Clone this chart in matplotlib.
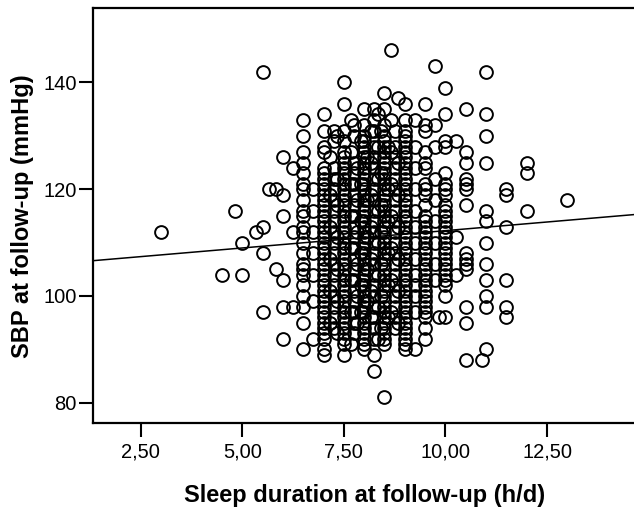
import matplotlib
matplotlib.use('Agg')
import matplotlib.pyplot as plt

# Sleep duration (h/d) -> SBP values (mmHg), column by column
sbp_600 = [126, 119, 115, 103, 98, 92]
sbp_625 = [124, 112, 98]
sbp_650 = [133, 130, 127, 125, 123, 121, 120, 118, 116, 115, 113, 112, 110, 108, 106,
           105, 104, 102, 100, 98, 95, 90]
sbp_675 = [120, 116, 112, 108, 104, 99, 92]
sbp_700 = [134, 131, 128, 127, 124, 123, 122, 121, 120, 119, 118, 117, 116, 115, 114,
           113, 112, 111, 110, 109, 108, 107, 106, 105, 104, 103, 102, 101, 100, 99,
           98, 97, 96, 95, 94, 93, 92, 90, 89]
sbp_717 = [126, 119, 113, 107, 101, 95]
sbp_725 = [131, 129, 124, 122, 120, 118, 116, 114, 112, 110, 108, 106, 104, 102, 100,
           98, 96, 94]
sbp_733 = [130, 122, 117, 111, 105, 99, 93]
sbp_750 = [140, 136, 131, 129, 127, 126, 125, 124, 123, 122, 121, 120, 119, 118, 117,
           116, 115, 114, 113, 112, 111, 110, 109, 108, 107, 106, 105, 104, 103, 102,
           101, 100, 99, 98, 97, 96, 95, 94, 93, 92, 91, 89]
sbp_767 = [133, 127, 121, 115, 109, 103, 97, 91]
sbp_775 = [132, 130, 125, 123, 121, 119, 117, 115, 113, 111, 109, 107, 105, 103, 101,
           99, 97, 95, 93]
sbp_783 = [124, 118, 112, 106, 100, 95]
sbp_792 = [129, 121, 114, 108, 102, 97]
sbp_800 = [135, 132, 130, 129, 128, 127, 126, 125, 124, 123, 122, 121, 120, 119, 118,
           117, 116, 115, 114, 113, 112, 111, 110, 109, 108, 107, 106, 105, 104, 103,
           102, 101, 100, 99, 98, 97, 96, 95, 94, 93, 92, 91, 90]
sbp_808 = [126, 118, 111, 105, 99]
sbp_817 = [131, 125, 119, 113, 107, 101, 96]
sbp_825 = [135, 133, 131, 128, 126, 124, 122, 120, 118, 116, 114, 112, 110, 108, 106,
           104, 102, 100, 98, 96, 94, 92, 89, 86]
sbp_833 = [134, 128, 122, 116, 110, 104, 98, 92]
sbp_842 = [131, 123, 117, 112, 106, 100, 94]
sbp_850 = [138, 135, 132, 130, 129, 128, 127, 126, 125, 124, 123, 122, 121, 120, 119,
           118, 117, 116, 115, 114, 113, 112, 111, 110, 109, 108, 107, 106, 105, 104,
           103, 102, 101, 100, 99, 98, 97, 96, 95, 94, 93, 92, 91, 81]
sbp_858 = [128, 120, 114, 108, 102, 96]
sbp_867 = [146, 133, 127, 121, 115, 109, 103, 97]
sbp_875 = [131, 128, 126, 124, 122, 120, 118, 116, 114, 112, 110, 108, 106, 104,
           102, 100, 98, 96, 94]
sbp_883 = [137, 125, 119, 113, 107, 101, 95]
sbp_900 = [136, 133, 131, 130, 129, 128, 127, 126, 125, 124, 123, 122, 121, 120, 119,
           118, 117, 116, 115, 114, 113, 112, 111, 110, 109, 108, 107, 106, 105, 104,
           103, 102, 101, 100, 99, 98, 97, 96, 95, 94, 93, 92, 91, 90]
sbp_925 = [133, 128, 124, 120, 116, 113, 110, 107, 104, 102, 100, 97, 90]
sbp_950 = [136, 132, 131, 127, 125, 124, 121, 120, 119, 117, 115, 114, 113, 112, 111,
           110, 109, 108, 107, 106, 105, 104, 103, 102, 101, 100, 99, 98, 97, 96, 94, 92]
sbp_975 = [143, 132, 128, 122, 118, 114, 110, 106, 103]
sbp_1000 = [139, 134, 129, 128, 123, 121, 120, 119, 117, 116, 115, 114, 113, 112, 111,
            110, 109, 108, 107, 106, 105, 104, 103, 102, 100, 96]
sbp_1025 = [129, 111, 104]
sbp_1050 = [135, 127, 125, 122, 121, 120, 117, 108, 107, 106, 105, 98, 95, 88]
sbp_1100 = [142, 134, 130, 125, 116, 114, 110, 106, 103, 100, 98, 90]
sbp_1150 = [120, 119, 113, 103, 98, 96]
sbp_1200 = [125, 123, 116]

columns = [(6.0, sbp_600), (6.25, sbp_625), (6.5, sbp_650), (6.75, sbp_675),
           (7.0, sbp_700), (7.17, sbp_717), (7.25, sbp_725), (7.33, sbp_733),
           (7.5, sbp_750), (7.67, sbp_767), (7.75, sbp_775), (7.83, sbp_783),
           (7.92, sbp_792), (8.0, sbp_800), (8.08, sbp_808), (8.17, sbp_817),
           (8.25, sbp_825), (8.33, sbp_833), (8.42, sbp_842), (8.5, sbp_850),
           (8.58, sbp_858), (8.67, sbp_867), (8.75, sbp_875), (8.83, sbp_883),
           (9.0, sbp_900), (9.25, sbp_925), (9.5, sbp_950), (9.75, sbp_975),
           (10.0, sbp_1000), (10.25, sbp_1025), (10.5, sbp_1050), (11.0, sbp_1100),
           (11.5, sbp_1150), (12.0, sbp_1200)]

# isolated points
extra_sleep = [3.0, 4.5, 4.83, 5.0, 5.0, 5.33, 5.5, 5.5, 5.5, 5.5, 5.67, 5.83, 5.83,
               9.83, 10.9, 13.0]
extra_sbp = [112, 104, 116, 110, 104, 112, 142, 113, 108, 97, 120, 120, 105,
             96, 88, 118]

# fit line
fit_intercept = 105.74
fit_slope = 0.649

x = []
y = []
for hours, values in columns:
    x += [hours] * len(values)
    y += values
x += extra_sleep
y += extra_sbp

fig = plt.figure(figsize=(6.34, 5.19), dpi=100)
ax = fig.add_axes([0.1462, 0.1844, 0.8538, 0.7996])

ax.plot(x, y, 'o', markersize=9.2, markerfacecolor='none', markeredgecolor='black',
        markeredgewidth=1.4, zorder=3)
ax.axline((0, fit_intercept), slope=fit_slope, color='black', linewidth=1.1, zorder=2)

ax.set_xlim(1.32, 14.64)
ax.set_ylim(76.13, 153.9)
ax.set_xticks([2.5, 5, 7.5, 10, 12.5])
ax.set_xticklabels(['2,50', '5,00', '7,50', '10,00', '12,50'])
ax.set_yticks([80, 100, 120, 140])

for lab in ax.get_xticklabels() + ax.get_yticklabels():
    lab.set_family('Liberation Sans')
    lab.set_fontsize(14.5)
ax.tick_params(axis='both', direction='out', length=10, width=1.5, colors='black')
ax.tick_params(axis='x', pad=4)
ax.tick_params(axis='y', pad=1.5)

for side in ['left', 'bottom', 'top']:
    ax.spines[side].set_linewidth(1.6)
ax.spines['right'].set_visible(False)

ax.set_xlabel('Sleep duration at follow-up (h/d)', family='Liberation Sans',
              fontsize=17, fontweight='bold')
ax.set_ylabel('SBP at follow-up (mmHg)', family='Liberation Sans',
              fontsize=17, fontweight='bold')
ax.xaxis.set_label_coords(0.503, -0.175)
ax.xaxis.label.set_va('center')
ax.yaxis.set_label_coords(-0.129, 0.5)
ax.yaxis.label.set_va('center')

fig.savefig('out.png', dpi=100)
